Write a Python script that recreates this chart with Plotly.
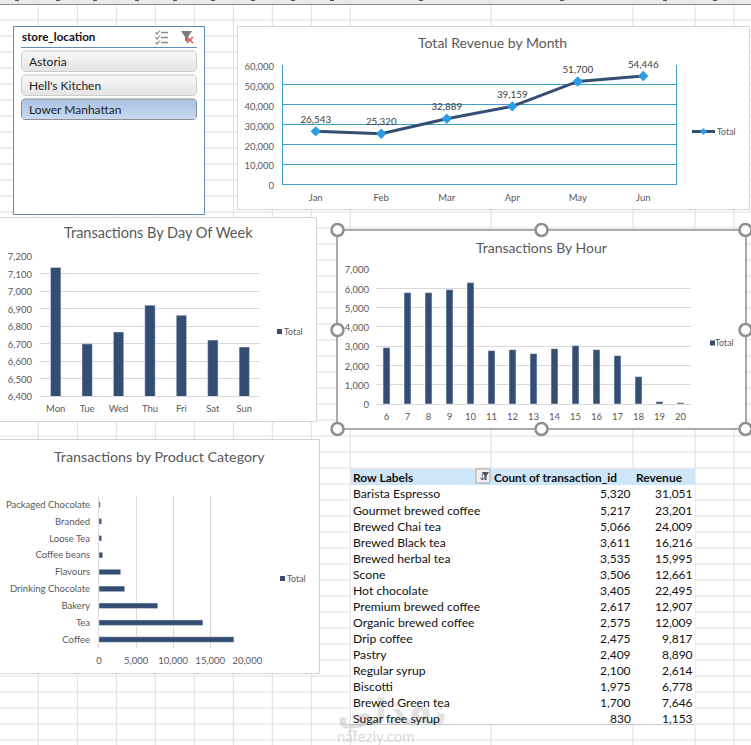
import plotly.graph_objects as go

W, H = 751, 745
FONT = "Lato"
GREY = "#595959"
NAVY = "#334e72"
GRID = "#d9d9d9"
SHEET = "#dedede"

months = ["Jan", "Feb", "Mar", "Apr", "May", "Jun"]
month_revenue = [26543, 25320, 32889, 39159, 51700, 54446]

days = ["Mon", "Tue", "Wed", "Thu", "Fri", "Sat", "Sun"]
day_transactions = [7135, 6698, 6766, 6919, 6862, 6720, 6680]

hours = ["6", "7", "8", "9", "10", "11", "12", "13", "14", "15", "16", "17", "18", "19", "20"]
hour_transactions = [2921, 5773, 5773, 5929, 6291, 2765, 2817, 2610, 2869, 3025, 2817, 2506, 1417, 121, 69]

categories = ["Coffee", "Tea", "Bakery", "Drinking Chocolate", "Flavours", "Coffee beans", "Loose Tea", "Branded", "Packaged Chocolate"]
category_transactions = [18200, 14009, 7928, 3468, 2928, 495, 360, 360, 180]

products = ["Barista Espresso", "Gourmet brewed coffee", "Brewed Chai tea", "Brewed Black tea", "Brewed herbal tea",
            "Scone", "Hot chocolate", "Premium brewed coffee", "Organic brewed coffee", "Drip coffee", "Pastry",
            "Regular syrup", "Biscotti", "Brewed Green tea", "Sugar free syrup"]
product_counts = [5320, 5217, 5066, 3611, 3535, 3506, 3405, 2617, 2575, 2475, 2409, 2100, 1975, 1700, 830]
product_revenue = [31051, 23201, 24009, 16216, 15995, 12661, 22495, 12907, 12009, 9817, 8890, 2614, 6778, 7646, 1153]

slicer_items = ["Astoria", "Hell's Kitchen", "Lower Manhattan"]


def px(x):
    return x / W


def py(y):
    return 1 - y / H


shapes = []
annotations = []


def rect(x0, y0, x1, y1, fill="rgba(0,0,0,0)", line=None, lw=1, layer="below"):
    shapes.append(dict(type="rect", xref="paper", yref="paper", x0=px(x0), x1=px(x1), y0=py(y0), y1=py(y1),
                       fillcolor=fill, line=dict(color=line or "rgba(0,0,0,0)", width=lw if line else 0), layer=layer))


def seg(x0, y0, x1, y1, color=SHEET, lw=1, layer="below"):
    shapes.append(dict(type="line", xref="paper", yref="paper", x0=px(x0), x1=px(x1), y0=py(y0), y1=py(y1),
                       line=dict(color=color, width=lw), layer=layer))


def path(points, fill, line=None, lw=1, layer="below"):
    d = "M" + " L".join(f"{px(a):.5f},{py(b):.5f}" for a, b in points) + " Z"
    shapes.append(dict(type="path", xref="paper", yref="paper", path=d, fillcolor=fill,
                       line=dict(color=line or "rgba(0,0,0,0)", width=lw if line else 0), layer=layer))


def text(x, y, s, size=10, color=GREY, anchor="left", family=FONT):
    nudge = {"left": -2, "right": 2, "center": 0}[anchor]
    annotations.append(dict(xref="paper", yref="paper", x=px(x + nudge), y=py(y), text=s, showarrow=False,
                            xanchor=anchor, yanchor="middle", align=anchor,
                            font=dict(family=family, size=size, color=color)))


def round_rect(x0, y0, x1, y1, fill, line):
    r = 3
    pts = [(x0 + r, y0), (x1 - r, y0), (x1 - 1, y0 + 1), (x1, y0 + r), (x1, y1 - r), (x1 - 1, y1 - 1), (x1 - r, y1),
           (x0 + r, y1), (x0 + 1, y1 - 1), (x0, y1 - r), (x0, y0 + r), (x0 + 1, y0 + 1)]
    path(pts, fill, line, 1)


def blend(c0, c1, t):
    return "rgb(" + ",".join(str(round(a + (b - a) * t)) for a, b in zip(c0, c1)) + ")"


# worksheet grid
for k in range(0, 47):
    seg(0, 4 + 16 * k, W, 4 + 16 * k)
for x in [38.3 + 39 * k for k in range(9)] + [491, 633, 695, 734]:
    seg(x, 4, x, H)
rect(0, 0, W, 4, fill="#e8e8e8")
seg(0, 4.5, W, 4.5, color="#8c8c8c", lw=1)
for x in [17, 58, 95, 137, 175, 213, 253, 293, 332, 421, 562, 665, 715]:
    seg(x - 2, 0.5, x + 2, 0.5, color="#555555", lw=1)

# chart frames
rect(237.5, 26.5, 749.5, 209.5, fill="white", line="#d4d4d4")
rect(-2, 217.5, 316.5, 421.5, fill="white", line="#d4d4d4")
rect(-2, 439.5, 319.5, 673.5, fill="white", line="#d4d4d4")
rect(337, 230, 746, 429, fill="white", line="#8f8f8f", lw=1.5)

# slicer
rect(13.5, 26.5, 204.5, 214.5, fill="white", line="#5f8db5", lw=1)
text(22, 37, "<b>store_location</b>", size=11.6, color="#111111")
seg(21, 47.5, 197, 47.5, color="#5f8db5", lw=1)
tops = [51, 75, 99]
for name, top in zip(slicer_items, tops):
    on = name == "Lower Manhattan"
    round_rect(21.5, top, 196.5, top + 20.5, "#b7cde9" if on else "#efefef", "#8e8e8e" if on else "#cccccc")
    c0, c1 = ((170, 195, 228), (200, 218, 241)) if on else ((247, 247, 247), (229, 229, 229))
    for j in range(19):
        seg(22.5, top + 1.5 + j, 195.5, top + 1.5 + j, color=blend(c0, c1, j / 18))
    text(29, top + 10.5, name, size=12, color="#222222")
for i in range(3):
    seg(161, 32.5 + 5 * i, 168, 32.5 + 5 * i, color="#8a8a8a", lw=1.5)
    path([(155.5, 32 + 5 * i), (157, 33.5 + 5 * i), (160, 30.5 + 5 * i), (157, 34.5 + 5 * i)], "#8a8a8a", "#8a8a8a", 0.8)
path([(181, 31), (192, 31), (188, 37), (188, 42), (185, 41), (185, 37)], "#7d7d7d")
seg(187, 37, 193, 43, color="#e0564a", lw=1.5)
seg(193, 37, 187, 43, color="#e0564a", lw=1.5)

# pivot table
rect(351, 469, 695, 485, fill="#cfe6f8")
rect(351, 485, 695, 724.5, fill="white")
seg(351, 724.5, 695, 724.5, color="#c9c9c9")
rect(476, 469, 490, 483, fill="#f2f2f2", line="#a5a5a5")
text(479, 476, "↓", size=8, color="#333333")
path([(482, 472), (489, 472), (486.5, 476), (486.5, 480), (484.5, 480), (484.5, 476)], "#555555")
text(353, 477.5, "<b>Row Labels</b>", size=12, color="#111111")
text(494, 477.5, "<b>Count of transaction_id</b>", size=11.8, color="#111111")
text(636, 477.5, "<b>Revenue</b>", size=12, color="#111111")

# watermark (lies under the table text, as in the reference)
text(392, 712, "<b>نفذلي</b>", size=36, color="rgba(150,150,150,0.30)", anchor="center", family="DejaVu Sans")
text(376, 735.5, "nafezly.com", size=15, color="rgba(150,150,150,0.35)", anchor="center")

for i, (name, cnt, rev) in enumerate(zip(products, product_counts, product_revenue)):
    y = 494 + 16 * i
    text(353, y, name, size=12.2, color="#111111")
    text(631, y, f"{cnt:,}", size=12, color="#111111", anchor="right")
    text(692.5, y, f"{rev:,}", size=12, color="#111111", anchor="right")

# titles
text(493, 43, "Total Revenue by Month", size=14, anchor="center")
text(158, 233, "Transactions By Day Of Week", size=14.5, anchor="center")
text(541, 247, "Transactions By Hour", size=14, anchor="center")
text(159, 457, "Transactions by Product Category", size=14.3, anchor="center")

# chart legends
seg(692, 131.5, 715, 131.5, color=NAVY, lw=3)
path([(703.5, 128), (707, 131.5), (703.5, 135), (700, 131.5)], "#2e9be6", layer="above")
text(717, 131.5, "Total", size=8.8)
for sx, sy, tx in [(279.5, 331.5, 284), (712.5, 343, 715), (282.5, 578.5, 287)]:
    rect(sx - 2.5, sy - 2.5, sx + 2.5, sy + 2.5, fill=NAVY)
    text(tx, sy, "Total", size=8.8)

# selection handles on the chart
for hx, hy in [(337.5, 230), (541.5, 230), (745.5, 230), (337.5, 330), (745.5, 330), (337.5, 429), (541.5, 429), (745.5, 429)]:
    shapes.append(dict(type="circle", xref="paper", yref="paper", x0=px(hx - 6), x1=px(hx + 6), y0=py(hy - 6), y1=py(hy + 6),
                       fillcolor="white", line=dict(color="#8f8f8f", width=2.5), layer="above"))

fig = go.Figure()
fig.add_trace(go.Scatter(x=months, y=month_revenue, mode="lines+markers+text", name="Total",
                         text=[f"{v:,}" for v in month_revenue], textposition="top center",
                         textfont=dict(family=FONT, size=9.8, color="#404040"),
                         line=dict(color=NAVY, width=3), marker=dict(symbol="diamond", size=8, color="#2e9be6"),
                         xaxis="x", yaxis="y", cliponaxis=False))
fig.add_trace(go.Bar(x=days, y=day_transactions, name="Total", marker_color=NAVY, xaxis="x2", yaxis="y2"))
fig.add_trace(go.Bar(x=hours, y=hour_transactions, name="Total", marker_color=NAVY, xaxis="x3", yaxis="y3"))
fig.add_trace(go.Bar(y=categories, x=category_transactions, orientation="h", name="Total", marker_color=NAVY,
                     xaxis="x4", yaxis="y4"))

tick = dict(family=FONT, size=9.5, color=GREY)


def cat_axis(x0, x1, anchor, line=GRID, standoff=4):
    return dict(domain=[px(x0), px(x1)], anchor=anchor, type="category", showgrid=False, showline=True, linecolor=line,
                linewidth=1, ticks="", tickfont=tick, ticklabelstandoff=standoff, zeroline=False, fixedrange=True,
                automargin=False)


def val_axis(y0, y1, anchor, rng, dtick, grid=GRID, standoff=6, shift=1):
    return dict(domain=[py(y1), py(y0)], anchor=anchor, range=rng, dtick=dtick, tickformat=",", showgrid=True,
                gridcolor=grid, gridwidth=1, showline=False, ticks="", tickfont=tick, ticklabelstandoff=standoff,
                ticklabelshift=shift, zeroline=False, fixedrange=True, automargin=False)


TEAL = "#3f9fca"
x1 = cat_axis(283, 676, "y", line=TEAL, standoff=5)
x1.update(range=[-0.5, 5.5])
y1 = val_axis(65, 184, "x", [0, 60000], 10000, grid=TEAL, shift=2)
y1.update(showline=True, linecolor=TEAL, mirror=True)
x2 = cat_axis(40, 260, "y2")
y2 = val_axis(256, 396, "x2", [6400, 7200], 100, standoff=7)
x3 = cat_axis(376, 691, "y3")
y3 = val_axis(269, 404, "x3", [0, 7000], 1000)
x4 = val_axis(0, 0, "y4", [0, 20000], 5000, standoff=5, shift=0)
x4.update(domain=[px(99), px(247.3)])
y4 = cat_axis(0, 0, "x4", standoff=6)
y4.update(domain=[py(648), py(496)])

fig.update_layout(
    width=W, height=H, margin=dict(l=0, r=0, t=0, b=0, pad=0), paper_bgcolor="white", plot_bgcolor="rgba(0,0,0,0)",
    showlegend=False, bargap=0.67, shapes=shapes, annotations=annotations, font=dict(family=FONT),
    xaxis=x1, yaxis=y1, xaxis2=x2, yaxis2=y2, xaxis3=x3, yaxis3=y3, xaxis4=x4, yaxis4=y4,
)
fig.write_html("out.html", config=dict(displayModeBar=False),
               post_script="document.body.style.margin='0';")
